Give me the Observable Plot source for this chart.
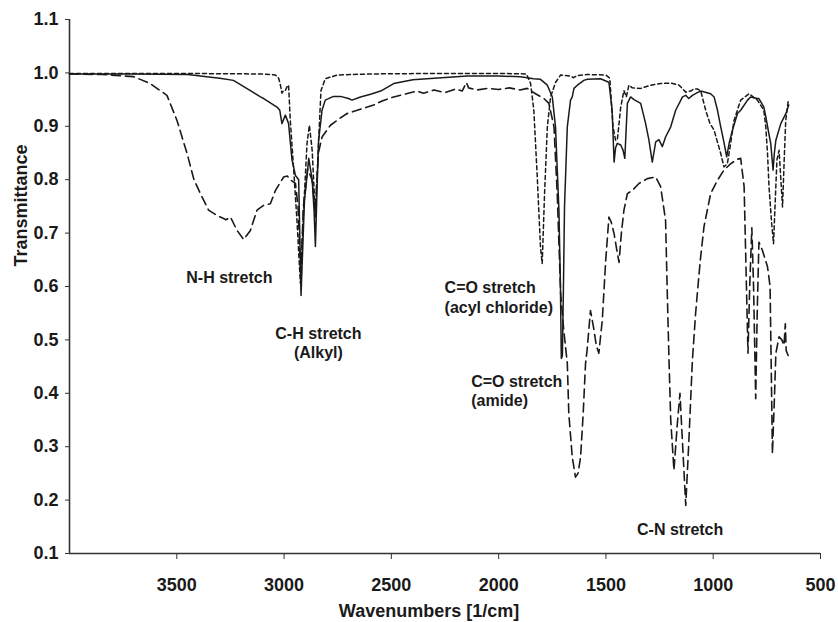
<!DOCTYPE html>
<html>
<head>
<meta charset="utf-8">
<script src="https://cdn.jsdelivr.net/npm/d3@7"></script>
<script src="https://cdn.jsdelivr.net/npm/@observablehq/plot@0.6"></script>
<style>
  html, body { margin: 0; padding: 0; background: #fff; }
</style>
</head>
<body>
<div id="chart"></div>
<script>
// ---- Data ----
const xTicks = [3500, 3000, 2500, 2000, 1500, 1000, 500];
const yTicks = [0.1, 0.2, 0.3, 0.4, 0.5, 0.6, 0.7, 0.8, 0.9, 1.0, 1.1];

// Series 1: solid line
const solidWn = [4000,3700,3450,3300,3236,3157,3110,3095,3033,3020,3010,2994,2979,2963,2947,2932,2921,2905,2885,2869,2860,2854,2845,2839,2823,2808,2770,2737,2700,2683,2644,2597,2550,2489,2400,2300,2146,2000,1898,1837,1805,1773,1750,1735,1719,1712,1708,1703,1698,1693,1680,1665,1657,1649,1633,1603,1587,1525,1495,1486,1471,1462,1455,1447,1431,1420,1412,1405,1400,1385,1369,1338,1315,1300,1284,1268,1253,1237,1222,1198,1175,1143,1128,1114,1097,1074,1058,1012,996,980,965,952,937,925,910,887,872,840,826,794,787,764,755,741,732,721,715,708,685,660,648];
const solidT  = [0.998,0.998,0.997,0.99,0.986,0.967,0.955,0.952,0.936,0.93,0.905,0.921,0.905,0.837,0.808,0.80,0.583,0.76,0.84,0.80,0.74,0.675,0.8,0.874,0.93,0.949,0.956,0.956,0.952,0.949,0.955,0.96,0.966,0.98,0.987,0.99,0.994,0.994,0.993,0.989,0.988,0.977,0.955,0.899,0.743,0.6,0.465,0.47,0.6,0.75,0.899,0.949,0.955,0.971,0.977,0.986,0.988,0.989,0.984,0.982,0.93,0.833,0.86,0.868,0.865,0.855,0.84,0.9,0.943,0.955,0.95,0.943,0.905,0.875,0.833,0.871,0.875,0.862,0.88,0.899,0.93,0.955,0.958,0.952,0.958,0.963,0.966,0.961,0.955,0.93,0.899,0.874,0.843,0.87,0.893,0.924,0.93,0.949,0.955,0.952,0.952,0.936,0.918,0.887,0.868,0.818,0.85,0.874,0.905,0.925,0.94];

// Series 2: short-dashed line
const shortWn = [4000,3500,3100,3040,3025,3017,3010,3002,2994,2985,2979,2971,2955,2940,2924,2909,2893,2882,2869,2854,2839,2828,2808,2753,2600,2300,2000,1870,1851,1836,1820,1805,1797,1786,1773,1758,1735,1711,1665,1650,1635,1587,1500,1482,1467,1455,1447,1431,1416,1405,1393,1377,1338,1291,1245,1198,1159,1128,1105,1090,1074,1058,1035,1015,996,980,965,950,934,918,903,872,833,794,764,755,747,740,728,719,711,703,693,677,668,662,651];
const shortT  = [0.999,0.999,0.998,0.996,0.99,0.977,0.962,0.967,0.967,0.975,0.977,0.911,0.818,0.724,0.606,0.743,0.868,0.902,0.855,0.73,0.874,0.967,0.989,0.996,0.998,0.999,0.999,0.998,0.98,0.93,0.805,0.674,0.643,0.774,0.899,0.955,0.982,0.996,0.994,0.991,0.995,0.997,0.996,0.99,0.899,0.874,0.874,0.936,0.967,0.955,0.977,0.972,0.971,0.977,0.98,0.981,0.977,0.964,0.966,0.97,0.97,0.966,0.93,0.905,0.893,0.87,0.849,0.824,0.83,0.87,0.911,0.949,0.961,0.949,0.93,0.899,0.85,0.787,0.72,0.68,0.76,0.837,0.855,0.749,0.85,0.911,0.946];

// Series 3: long-dashed line
const longWn = [4000,3850,3701,3624,3546,3499,3452,3420,3390,3352,3320,3297,3270,3250,3219,3188,3157,3126,3095,3064,3040,3002,2985,2971,2947,2935,2922,2910,2890,2870,2855,2840,2823,2784,2740,2706,2659,2620,2582,2540,2489,2440,2380,2350,2300,2250,2200,2170,2150,2140,2100,2050,2000,1950,1900,1867,1828,1789,1766,1742,1727,1711,1697,1680,1673,1657,1642,1630,1618,1606,1595,1588,1572,1558,1545,1533,1517,1501,1486,1475,1462,1450,1439,1428,1416,1400,1377,1346,1307,1268,1245,1222,1214,1206,1198,1183,1167,1155,1143,1128,1114,1097,1082,1074,1060,1043,1012,980,950,918,890,872,856,848,838,830,820,812,802,795,787,771,747,735,724,714,708,693,680,670,664,660,646];
const longT  = [0.998,0.997,0.993,0.98,0.958,0.911,0.849,0.80,0.774,0.743,0.735,0.73,0.725,0.73,0.705,0.688,0.705,0.743,0.752,0.755,0.78,0.805,0.807,0.80,0.793,0.75,0.62,0.75,0.82,0.80,0.74,0.85,0.88,0.902,0.915,0.924,0.93,0.935,0.94,0.948,0.955,0.96,0.966,0.962,0.968,0.963,0.97,0.966,0.982,0.972,0.968,0.971,0.969,0.972,0.968,0.971,0.961,0.952,0.943,0.899,0.774,0.587,0.52,0.456,0.362,0.281,0.243,0.25,0.281,0.362,0.456,0.48,0.555,0.524,0.49,0.475,0.537,0.649,0.73,0.72,0.699,0.67,0.645,0.70,0.743,0.774,0.78,0.793,0.802,0.805,0.787,0.724,0.587,0.462,0.35,0.256,0.344,0.40,0.306,0.19,0.306,0.462,0.55,0.587,0.65,0.712,0.774,0.799,0.818,0.83,0.838,0.84,0.787,0.649,0.475,0.6,0.71,0.60,0.39,0.55,0.683,0.668,0.637,0.60,0.287,0.40,0.475,0.506,0.50,0.49,0.53,0.48,0.466];

// Annotations
const noteText = ["N-H stretch", "C-H stretch\n(Alkyl)", "C=O stretch\n(acyl chloride)", "C=O stretch\n(amide)", "C-N stretch"];
const noteWn   = [3255, 2840, 2252, 2128, 1154];
const noteT    = [0.618, 0.495, 0.5805, 0.405, 0.147];
const noteAnchor = ["middle", "middle", "start", "start", "middle"];

const xTitle = "Wavenumbers [1/cm]";
const yTitle = "Transmittance";

// ---- Build tables ----
const toRows = (wn, t, series) => wn.map((w, i) => ({wn: w, t: t[i], series}));
const solid = toRows(solidWn, solidT, "solid");
const shortD = toRows(shortWn, shortT, "short");
const longD = toRows(longWn, longT, "long");
const notes = noteText.map((s, i) => ({text: s, wn: noteWn[i], t: noteT[i], anchor: noteAnchor[i]}));

const ink = "#1a1a1a";
const chart = Plot.plot({
  width: 838,
  height: 622,
  marginLeft: 69,
  marginRight: 18,
  marginTop: 19,
  marginBottom: 69,
  style: {
    fontFamily: "'Liberation Sans', Arial, Helvetica, sans-serif",
    fontSize: "18px",
    fontWeight: "bold",
    color: ink,
    background: "#fff"
  },
  x: {domain: [4000, 500]},
  y: {domain: [0.1, 1.1]},
  marks: [
    Plot.ruleY([0.1], {stroke: "#333", strokeWidth: 1.6}),
    Plot.ruleX([4000], {stroke: "#333", strokeWidth: 1.6}),
    Plot.axisX({ticks: xTicks, tickSize: 6, tickPadding: 19, tickFormat: d => String(d), label: null, stroke: "#333"}),
    Plot.axisY({ticks: yTicks, tickSize: 4, tickPadding: 7, tickFormat: d3.format(".1f"), label: null, stroke: "#333"}),
    Plot.line(longD, {x: "wn", y: "t", stroke: ink, strokeWidth: 1.6, strokeDasharray: "9,5"}),
    Plot.line(shortD, {x: "wn", y: "t", stroke: ink, strokeWidth: 1.5, strokeDasharray: "4,3"}),
    Plot.line(solid, {x: "wn", y: "t", stroke: ink, strokeWidth: 1.5}),
    Plot.text(notes.filter(d => d.anchor === "middle"), {x: "wn", y: "t", text: "text", textAnchor: "middle", fontSize: 16, lineHeight: 1.2, fill: ink}),
    Plot.text(notes.filter(d => d.anchor === "start"), {x: "wn", y: "t", text: "text", textAnchor: "start", fontSize: 16, lineHeight: 1.2, fill: ink}),
    Plot.text([xTitle], {frameAnchor: "bottom", dy: 63, dx: -16, fontSize: 18, fill: ink}),
    Plot.text([yTitle], {frameAnchor: "left", rotate: -90, dx: -48, dy: -20, fontSize: 18, fill: ink})
  ]
});
document.getElementById("chart").appendChild(chart);
</script>
</body>
</html>
